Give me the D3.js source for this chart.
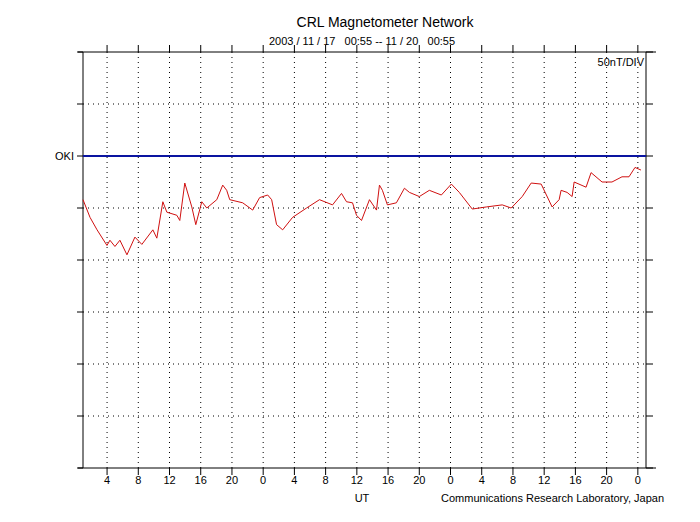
<!DOCTYPE html>
<html><head><meta charset="utf-8">
<script src="https://cdn.jsdelivr.net/npm/d3@7"></script>
<style>body{margin:0;background:#fff}text{font-family:"Liberation Sans",Arial,sans-serif}</style>
</head><body><svg id="c" width="700" height="522"></svg>
<script>
const hours=[0,0.9,1.8,3.07,3.45,4.09,4.73,5.63,6.65,7.54,8.95,9.46,10.23,10.74,12.02,12.4,13.04,13.94,14.45,15.22,15.86,17.14,17.9,18.41,18.8,20.46,21.74,22.63,23.66,24.17,24.8,25.58,26.85,28.64,30.3,31.97,33.12,33.76,34.53,35.04,35.68,36.7,37.6,37.98,38.36,39.0,40.15,41.18,41.82,43.09,44.37,45.91,47.19,48.21,49.87,51.66,53.71,54.86,56.27,57.42,58.7,60.1,61.0,61.25,62.02,62.66,62.92,64.45,65.09,66.5,67.77,69.05,69.95,70.72,71.48];
const okiNT=[-42,-59,-71,-86,-81,-87,-81,-95,-78,-85,-71,-79,-44,-54,-57,-62,-26,-49,-66,-44,-50,-42,-28,-33,-42,-45,-52,-40,-37.5,-42,-66,-71,-59,-50,-42,-47,-36,-44,-45,-57,-62,-42,-52,-28,-33,-47,-45,-31,-35,-39,-33,-37.5,-27,-35,-51,-49,-47,-50,-39,-26,-27,-49,-42,-33,-35,-39,-25,-30,-16,-25,-25,-20,-20,-11,-13.5];
const tickHours=d3.range(18).map(k=>3.0833+4*k);
const tickLabels=["4","8","12","16","20","0","4","8","12","16","20","0","4","8","12","16","20","0"];
const yGrid=[100,50,0,-50,-100,-150,-200,-250,-300];

const svg=d3.select("#c");
const L=83,R=646,T=52,B=468;
const x=d3.scaleLinear().domain([0,72]).range([L,R-1]);
const y=d3.scaleLinear().domain([-300,100]).range([B,T]);
const g=svg.append("g");
// grid
g.selectAll(".vg").data(tickHours).join("line").attr("x1",d=>x(d)).attr("x2",d=>x(d)).attr("y1",T).attr("y2",B)
 .attr("stroke","#000").attr("stroke-dasharray","1,4");
g.selectAll(".hg").data(yGrid.slice(1,-1)).join("line").attr("y1",d=>y(d)).attr("y2",d=>y(d)).attr("x1",L).attr("x2",R)
 .attr("stroke","#000").attr("stroke-dasharray","1,4");
// frame
g.append("line").attr("x1",L-5).attr("x2",R+10).attr("y1",T).attr("y2",T).attr("stroke","#000");
g.append("line").attr("x1",L-5).attr("x2",R+10).attr("y1",B).attr("y2",B).attr("stroke","#000");
g.append("line").attr("x1",L).attr("x2",L).attr("y1",T).attr("y2",B).attr("stroke","#000");
g.append("line").attr("x1",R).attr("x2",R).attr("y1",T).attr("y2",B).attr("stroke","#000");
// ticks
g.selectAll(".tt").data(tickHours).join("line").attr("x1",d=>x(d)).attr("x2",d=>x(d)).attr("y1",T-7).attr("y2",T).attr("stroke","#000");
g.selectAll(".bt").data(tickHours).join("line").attr("x1",d=>x(d)).attr("x2",d=>x(d)).attr("y1",B).attr("y2",B+7).attr("stroke","#000");
g.selectAll(".lt").data(yGrid).join("line").attr("x1",L-6).attr("x2",L).attr("y1",d=>y(d)).attr("y2",d=>y(d)).attr("stroke","#000");
g.selectAll(".rt").data(yGrid).join("line").attr("x1",R).attr("x2",R+7).attr("y1",d=>y(d)).attr("y2",d=>y(d)).attr("stroke","#000");
g.selectAll(".tl").data(tickHours).join("text").attr("x",d=>x(d)).attr("y",B+16).attr("text-anchor","middle")
 .attr("font-size",11).text((d,i)=>tickLabels[i]);
// baseline
g.append("line").attr("x1",L).attr("x2",R).attr("y1",y(0)).attr("y2",y(0)).attr("stroke","#0a14a0").attr("stroke-width",2);
g.append("path").datum(hours.map((h,i)=>[h,okiNT[i]])).attr("fill","none").attr("stroke","#d01010").attr("stroke-width",1)
 .attr("d",d3.line().x(d=>x(d[0])).y(d=>y(d[1])));
// texts
svg.append("text").attr("x",385).attr("y",27).attr("text-anchor","middle").attr("font-size",14).text("CRL Magnetometer Network");
svg.append("text").attr("x",362).attr("y",45).attr("text-anchor","middle").attr("font-size",11).attr("xml:space","preserve").text("2003 / 11 / 17   00:55 -- 11 / 20   00:55");
svg.append("text").attr("x",644).attr("y",66).attr("text-anchor","end").attr("font-size",11).text("50nT/DIV");
svg.append("text").attr("x",74).attr("y",160).attr("text-anchor","end").attr("font-size",11).text("OKI");
svg.append("text").attr("x",362).attr("y",502).attr("text-anchor","middle").attr("font-size",11).text("UT");
svg.append("text").attr("x",664).attr("y",502).attr("text-anchor","end").attr("font-size",11).text("Communications Research Laboratory, Japan");
</script></body></html>
